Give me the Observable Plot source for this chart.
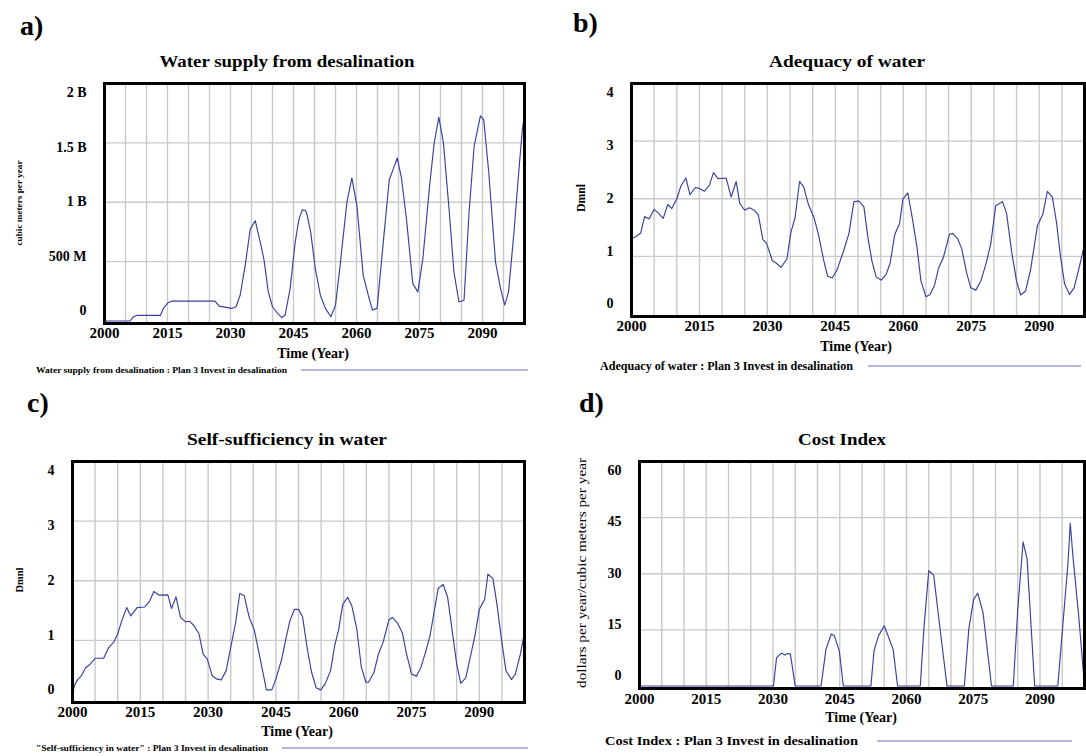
<!DOCTYPE html>
<html><head><meta charset="utf-8">
<script src="https://cdn.jsdelivr.net/npm/d3@7"></script>
<script src="https://cdn.jsdelivr.net/npm/@observablehq/plot@0.6"></script>
<style>
body{margin:0;background:#fff;}
#page{position:relative;width:1086px;height:756px;overflow:hidden;font-family:"Liberation Serif","Times New Roman",serif;background:#fff;}
.panel{position:absolute;}
#overlay{position:absolute;left:0;top:0;pointer-events:none;}
</style></head><body><div id="page"></div>
<script>
// ---------- shared axis data ----------
const xTickYears = [2000, 2015, 2030, 2045, 2060, 2075, 2090];

// ---------- a) Water supply from desalination (billion cubic meters per year) ----------
const aYears = [2000,2006.1,2006.9,2007.7,2013.3,2014.0,2015.2,2016.0,2026.3,2027.3,2030.3,2031.3,2032.3,2033.5,2034.7,2035.9,2037.1,2038.0,2039.0,2040.0,2041.2,2042.2,2043.0,2044.2,2045.4,2046.3,2047.1,2047.9,2048.3,2049.1,2050.2,2051.4,2052.6,2053.9,2055.0,2056.1,2057.7,2058.9,2060.1,2061.6,2062.8,2063.8,2064.9,2066.3,2067.8,2068.7,2069.7,2070.7,2071.9,2073.4,2074.6,2075.8,2077.4,2078.5,2079.6,2080.7,2082.1,2083.2,2084.4,2085.6,2086.8,2088.0,2089.5,2090.3,2091.5,2093.1,2094.3,2095.3,2096.2,2097.5,2098.5,2099.5,2100];
const aValues = [0,0,0.036,0.047,0.047,0.106,0.156,0.167,0.167,0.125,0.106,0.12,0.217,0.468,0.774,0.844,0.663,0.51,0.245,0.12,0.064,0.028,0.05,0.273,0.663,0.858,0.936,0.93,0.886,0.746,0.44,0.217,0.106,0.036,0.134,0.468,0.997,1.206,0.97,0.384,0.217,0.092,0.106,0.635,1.19,1.275,1.373,1.206,0.858,0.315,0.245,0.524,1.137,1.5,1.716,1.5,0.914,0.412,0.16,0.175,0.914,1.47,1.727,1.694,1.248,0.496,0.273,0.134,0.245,0.75,1.2,1.62,1.73];
const aTicks = [0, 0.5, 1, 1.5, 2];
const aTickLabels = ["0", "500 M", "1 B", "1.5 B", "2 B"];

// ---------- b) Adequacy of water (Dmnl) ----------
const bYears = [2000,2001.0,2002.0,2002.9,2003.9,2005,2006.0,2007.0,2008.0,2008.9,2010.0,2010.9,2012.0,2012.9,2014.1,2015.0,2016.1,2017.2,2018.1,2019.1,2020.9,2022.0,2023.1,2023.9,2025.0,2026.0,2027.1,2028.0,2029.0,2029.8,2031.1,2032.0,2033.0,2034.3,2035.2,2036.1,2037.1,2038.0,2039.1,2040.3,2041.3,2042.4,2043.3,2044.3,2045.4,2046.9,2048.0,2049.1,2050.2,2051.3,2052.2,2053.1,2054.0,2055.1,2056.2,2057.1,2058.1,2059.2,2059.9,2061.0,2062.0,2063.0,2063.9,2065.0,2065.9,2066.9,2067.8,2068.8,2070.2,2070.9,2072.0,2072.9,2074.0,2074.9,2076.0,2077.1,2078.2,2079.3,2080.4,2081.9,2082.8,2083.9,2085.0,2085.9,2087.0,2088.1,2089.6,2090.8,2091.8,2092.9,2093.8,2094.7,2095.6,2096.7,2097.7,2098.8,2100];
const bValues = [1.305,1.345,1.40,1.69,1.65,1.816,1.747,1.66,1.90,1.83,2.0,2.22,2.36,2.07,2.195,2.18,2.13,2.236,2.454,2.35,2.36,2.03,2.30,1.92,1.80,1.845,1.80,1.72,1.29,1.23,0.925,0.88,0.81,0.954,1.42,1.67,2.30,2.207,1.89,1.67,1.37,0.94,0.655,0.626,0.77,1.115,1.40,1.95,1.96,1.86,1.32,0.91,0.644,0.586,0.684,0.885,1.374,1.575,1.994,2.10,1.66,1.17,0.57,0.30,0.34,0.50,0.80,0.97,1.385,1.40,1.305,1.13,0.71,0.454,0.414,0.57,0.856,1.213,1.88,1.95,1.747,1.086,0.57,0.33,0.40,0.77,1.53,1.73,2.13,2.03,1.60,1.0,0.523,0.34,0.454,0.80,1.20];
const bTicks = [0, 1, 2, 3, 4];
const bTickLabels = ["0", "1", "2", "3", "4"];

// ---------- c) Self-sufficiency in water (Dmnl) ----------
const cYears = [2000,2000.6,2001.1,2002.0,2002.9,2003.9,2005,2006.9,2008.0,2009.1,2010.0,2010.9,2012.0,2012.9,2014.3,2016.0,2017.0,2018.0,2019.1,2021.1,2021.9,2022.9,2023.9,2025.0,2025.9,2026.9,2028.0,2028.9,2029.8,2030.9,2031.8,2032.9,2034.0,2035.0,2036.1,2037.0,2038.0,2039.1,2040.2,2041.3,2042.2,2042.9,2044.1,2045.0,2046.3,2047.2,2048.1,2049.1,2050.0,2050.9,2052.0,2052.9,2053.9,2054.9,2055.9,2057.1,2058.0,2058.9,2059.8,2060.9,2061.8,2062.9,2063.9,2064.9,2065.5,2066.7,2067.7,2068.7,2070.0,2070.8,2071.9,2073.0,2073.9,2075.0,2076.1,2077.1,2078.1,2079.1,2080.2,2080.9,2082.0,2083.0,2084.0,2085.0,2085.9,2087.0,2088.0,2089.1,2090.0,2091.2,2091.9,2093.0,2093.9,2094.9,2095.9,2097.1,2098.0,2099.1,2100];
const cValues = [0.13,0.27,0.337,0.41,0.54,0.60,0.70,0.70,0.88,0.967,1.106,1.33,1.55,1.41,1.55,1.56,1.65,1.82,1.76,1.763,1.535,1.73,1.385,1.31,1.32,1.245,1.106,0.77,0.69,0.41,0.354,0.337,0.493,0.883,1.30,1.786,1.747,1.385,1.18,0.772,0.437,0.17,0.17,0.354,0.688,1.02,1.33,1.52,1.52,1.395,0.83,0.465,0.204,0.17,0.27,0.493,0.91,1.19,1.607,1.72,1.58,1.19,0.55,0.298,0.298,0.465,0.772,0.967,1.345,1.385,1.29,1.12,0.772,0.437,0.40,0.55,0.80,1.08,1.56,1.87,1.94,1.72,1.16,0.604,0.28,0.37,0.716,1.106,1.52,1.69,2.11,2.04,1.607,1.02,0.493,0.343,0.437,0.772,1.13];
const cTicks = [0, 1, 2, 3, 4];
const cTickLabels = ["0", "1", "2", "3", "4"];

// ---------- d) Cost Index (dollars per year / cubic meters per year) ----------
const dYears = [2000,2030.1,2030.8,2031.9,2032.7,2033.3,2033.9,2035.0,2040.8,2041.9,2043.1,2043.8,2044.9,2045.8,2052.0,2052.7,2053.7,2055.0,2056.0,2057.0,2058.0,2063.1,2063.9,2065.0,2066.1,2067.6,2069.1,2073.0,2074.0,2075.1,2076.0,2077.2,2079.1,2084.0,2085.0,2086.2,2087.1,2088.8,2094.0,2095.3,2096.3,2096.8,2097.4,2098.7,2100];
const dValues = [0,0,7.6,8.8,8.3,8.7,8.6,0,0,9.8,13.9,13.4,9.4,0,0,9.4,13.4,16.1,12.95,9.8,0,0,15.2,30.8,29.7,14.7,0,0,15.2,23.2,24.8,19.6,0,0,20.5,38.5,33.9,0,0,18.7,33.0,43.5,34.7,18.7,0];
const dTicks = [0, 15, 30, 45, 60];
const dTickLabels = ["0", "15", "30", "45", "60"];

// ---------- text ----------
const panelLetters = ["a)", "b)", "c)", "d)"];
const titles = ["Water supply from desalination", "Adequacy of water", "Self-sufficiency in water", "Cost Index"];
const yTitles = ["cubic meters per year", "Dmnl", "Dmnl", "dollars per year/cubic meters per year"];
const xTitle = "Time (Year)";
const legendTexts = [
  "Water supply from desalination : Plan 3 Invest in desalination",
  "Adequacy of water : Plan 3 Invest in desalination",
  "\"Self-sufficiency in water\" : Plan 3 Invest in desalination",
  "Cost Index : Plan 3 Invest in desalination"
];

// ---------- drawing ----------
const LINE = "#3a3f9e";
const GRID = "#c9c9c9";
const FONT = "'Liberation Serif','Times New Roman',serif";
const page = document.getElementById("page");

function panel(cfg) {
  const data = cfg.years.map((yr, i) => ({year: yr, value: cfg.values[i]}));
  const ymax = cfg.ticks[cfg.ticks.length - 1];
  const gridYears = d3.range(2005, 2100, 5);
  const labelMarks = cfg.ticks.map((v, i) => Plot.text([v], {
    y: d => d, text: () => cfg.labels[i], frameAnchor: "left", textAnchor: "end",
    dx: -18, dy: -10 + 19 * v / ymax, fontSize: 14, fontWeight: "bold", fill: "black"
  }));
  const chart = Plot.plot({
    width: cfg.box.w, height: cfg.box.h,
    marginLeft: cfg.m[0], marginRight: cfg.m[1], marginTop: cfg.m[2], marginBottom: cfg.m[3],
    x: {domain: [2000, 2100]},
    y: {domain: [0, ymax], axis: null, insetBottom: 2.5},
    style: {fontFamily: FONT, color: "black", background: "transparent", overflow: "visible"},
    marks: [
      Plot.gridX(gridYears, {stroke: GRID, strokeOpacity: 1, strokeWidth: 1.4}),
      Plot.gridY(cfg.ticks.slice(1, -1), {stroke: GRID, strokeOpacity: 1, strokeWidth: 1.4}),
      Plot.line(data, {x: "year", y: "value", stroke: LINE, strokeWidth: 1.15}),
      Plot.frame({stroke: "black", strokeWidth: 3}),
      Plot.axisX(xTickYears, {tickSize: 0, tickPadding: cfg.pad, fontSize: 15, fontWeight: "bold", tickFormat: d => String(d), label: null}),
      ...labelMarks
    ]
  });
  const div = document.createElement("div");
  div.className = "panel";
  div.style.left = cfg.box.x + "px";
  div.style.top = cfg.box.y + "px";
  div.appendChild(chart);
  page.appendChild(div);
}

panel({years: aYears, values: aValues, ticks: aTicks, labels: aTickLabels, box: {x: 0, y: 70, w: 530, h: 280}, m: [104, 6, 13, 27], pad: 4});
panel({years: bYears, values: bValues, ticks: bTicks, labels: bTickLabels, box: {x: 543, y: 70, w: 543, h: 275}, m: [88, 2, 13, 29], pad: 4});
panel({years: cYears, values: cValues, ticks: cTicks, labels: cTickLabels, box: {x: 0, y: 450, w: 530, h: 280}, m: [72, 6, 11, 28], pad: 4});
panel({years: dYears, values: dValues, ticks: dTicks, labels: dTickLabels, box: {x: 543, y: 450, w: 543, h: 265}, m: [96, 2, 11, 27], pad: 5});

// ---------- overlay text (titles, letters, axis titles, legends) ----------
const NS = "http://www.w3.org/2000/svg";
const ov = document.createElementNS(NS, "svg");
ov.setAttribute("id", "overlay");
ov.setAttribute("width", 1086); ov.setAttribute("height", 756);
page.appendChild(ov);
function txt(s, x, y, o = {}) {
  const t = document.createElementNS(NS, "text");
  t.textContent = s;
  t.setAttribute("x", x); t.setAttribute("y", y);
  t.setAttribute("font-family", FONT);
  t.setAttribute("font-size", o.size || 14);
  t.setAttribute("font-weight", o.weight || "bold");
  t.setAttribute("text-anchor", o.anchor || "middle");
  t.setAttribute("dominant-baseline", "central");
  t.setAttribute("fill", "black");
  if (o.len) { t.setAttribute("textLength", o.len); t.setAttribute("lengthAdjust", "spacingAndGlyphs"); }
  if (o.rot) t.setAttribute("transform", `rotate(-90 ${x} ${y})`);
  ov.appendChild(t);
}
function seg(x1, x2, y) {
  const l = document.createElementNS(NS, "line");
  l.setAttribute("x1", x1); l.setAttribute("x2", x2);
  l.setAttribute("y1", y); l.setAttribute("y2", y);
  l.setAttribute("stroke", "#6a6fbb"); l.setAttribute("stroke-width", 1.2);
  ov.appendChild(l);
}
// panel letters
txt(panelLetters[0], 20, 25, {size: 28, anchor: "start"});
txt(panelLetters[1], 573, 22, {size: 28, anchor: "start"});
txt(panelLetters[2], 27, 402, {size: 28, anchor: "start"});
txt(panelLetters[3], 579, 402, {size: 28, anchor: "start"});
// titles
txt(titles[0], 287, 61, {size: 17, len: 255});
txt(titles[1], 847, 61, {size: 17, len: 156});
txt(titles[2], 287, 439, {size: 17, len: 200});
txt(titles[3], 842, 439, {size: 17, len: 88});
// x axis titles
txt(xTitle, 313, 353, {size: 14});
txt(xTitle, 856, 346, {size: 14});
txt(xTitle, 297, 731, {size: 14});
txt(xTitle, 861, 717, {size: 14});
// y axis titles
txt(yTitles[0], 19, 203, {size: 8.5, rot: true, len: 85});
txt(yTitles[1], 581, 198, {size: 12, rot: true, len: 28});
txt(yTitles[2], 19, 580, {size: 10.5, rot: true, len: 25});
txt(yTitles[3], 581, 573, {size: 13, weight: "normal", rot: true, len: 230});
// legends
txt(legendTexts[0], 36, 370, {size: 9, anchor: "start", len: 251}); seg(301, 528, 370);
txt(legendTexts[1], 600, 366, {size: 11.5, anchor: "start", len: 253}); seg(868, 1081, 366);
txt(legendTexts[2], 36, 748, {size: 9, anchor: "start", len: 232}); seg(282, 528, 748);
txt(legendTexts[3], 605, 741, {size: 12.5, anchor: "start", len: 253}); seg(877, 1072, 741);
</script>
</body></html>
